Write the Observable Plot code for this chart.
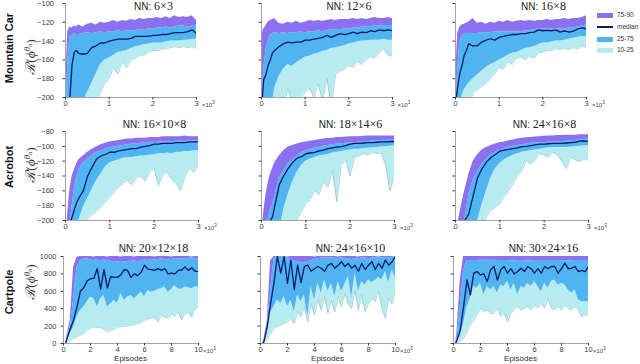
<!DOCTYPE html>
<html><head><meta charset="utf-8">
<script src="https://cdn.jsdelivr.net/npm/d3@7"></script>
<script src="https://cdn.jsdelivr.net/npm/@observablehq/plot@0.6"></script>
<style>
body{margin:0;background:#fff;}
#fig{position:relative;width:640px;height:364px;overflow:hidden;font-family:"Liberation Sans",Arial,sans-serif;color:#222;}
.abs{position:absolute;white-space:nowrap;line-height:1;}
.title{font-size:10px;transform:translate(-50%,-50%);}
.title .n{font-family:"Liberation Serif",serif;font-size:12px;}
.rowlab{font-weight:bold;font-size:11px;transform:translate(-50%,-50%) rotate(-90deg);color:#111;}
.ylab{font-family:"Liberation Serif","DejaVu Serif",serif;font-size:13.5px;transform:translate(-50%,-50%) rotate(-90deg);color:#333;}
.ylab sup{font-size:9px;}
.ylab sub{font-size:6.5px;}
.mult{font-size:6px;color:#444;transform:translateY(-50%);}
.mult sup{font-size:4.5px;}
.eps{font-size:8px;color:#333;transform:translate(-50%,-50%);}
.leg{font-size:6.5px;color:#333;transform:translateY(-50%);}
.sw{position:absolute;width:16px;}
</style></head>
<body><div id="fig"></div>
<script>
// ---------- data ----------
const X12 = [0.02,0.05,0.1,0.15,0.2,0.25, 0.3,0.4,0.5,0.6,0.7, 0.8,0.9,1.0,1.1,1.2, 1.3,1.4,1.5,1.6,1.7, 1.8,1.9,2.0,2.1,2.2, 2.3,2.4,2.5,2.6,2.7, 2.8,2.9,3.0];
const X3 = [0.15,0.25,0.5,0.75,1, 1.25,1.5,1.75,2,2.25, 2.5,2.75,3,3.25,3.5, 3.75,4,4.25,4.5,4.75, 5,5.25,5.5,5.75,6, 6.25,6.5,6.75,7,7.25, 7.5,7.75,8,8.25,8.5, 8.75,9,9.25,9.5,9.75, 10];

const envs = ["Mountain Car","Acrobot","Cartpole"];
const nets = [["6×3","12×6","16×8"],["16×10×8","18×14×6","24×16×8"],["20×12×18","24×16×10","30×24×16"]];
const yTicks = [[-200,-180,-160,-140,-120,-100],[-200,-180,-160,-140,-120,-100,-80],[0,200,400,600,800,1000]];
const xTicks = [[0,1,2,3],[0,1,2,3],[0,2,4,6,8,10]];
const legendLabels = ["75-90","median","25-75","10-25"];

// Mountain Car
const mc1_p90 = [-168,-130,-125,-126,-124,-125, -123,-125,-122,-121,-123, -120,-121,-120,-118,-120, -118,-119,-117,-118,-116, -117,-116,-116,-115,-116, -114,-116,-113,-115,-114, -115,-113,-118];
const mc1_p75 = [-205,-165,-136,-134,-132,-133, -133,-132,-131,-132,-131, -130,-131,-130,-130,-129, -130,-129,-129,-129,-128, -128,-127,-127,-126,-126, -125,-126,-125,-124,-124, -125,-124,-123];
const mc1_med = [-205,-205,-200,-165,-152,-150, -153,-154,-153,-147,-145, -142,-142,-140,-139,-138, -138,-138,-137,-135,-135, -135,-135,-134,-134,-133, -133,-132,-131,-131,-131, -130,-128,-132];
const mc1_p25 = [-240,-240,-235,-230,-225,-215, -210,-205,-195,-185,-175, -165,-160,-158,-155,-152, -151,-150,-148,-146,-145, -144,-143,-142,-142,-142, -141,-140,-140,-140,-139, -139,-138,-138];
const mc1_p10 = [-260,-260,-260,-260,-260,-260, -260,-250,-215,-210,-205, -195,-185,-180,-168,-175, -162,-168,-160,-158,-155, -155,-152,-150,-150,-149, -148,-147,-146,-147,-146, -147,-146,-148];

const mc2_p90 = [-132,-127,-124,-120,-118,-117, -116,-121,-122,-120,-121, -119,-121,-120,-118,-119, -118,-119,-118,-117,-118, -117,-117,-117,-116,-117, -116,-117,-116,-115,-116, -116,-115,-116];
const mc2_p75 = [-200,-170,-150,-140,-134,-132, -131,-132,-131,-132,-131, -131,-130,-131,-130,-130, -129,-130,-129,-128,-128, -128,-127,-127,-126,-126, -125,-125,-124.5,-124,-124, -124,-123.5,-123.5];
const mc2_med = [-200,-181,-176,-166,-160,-153, -150,-146,-143,-141,-142, -141,-141,-139,-139,-138, -137,-136,-134,-136,-134, -132,-133,-132,-130.5,-132, -130.5,-131,-129,-130,-128, -129,-128,-129];
const mc2_p25 = [-240,-230,-220,-215,-210,-205, -190,-178,-170,-165,-167, -163,-160,-157,-156,-154, -153,-151,-150,-148,-147, -146,-145,-143,-142,-141, -140,-140,-139,-139,-139, -138,-139,-139];
const mc2_p10 = [-260,-260,-260,-260,-260,-260, -260,-250,-215,-190,-205, -210,-200,-195,-190,-200, -185,-205,-180,-210,-175, -172,-170,-166,-168,-162, -165,-160,-157,-158,-152, -148,-155,-156];

const mc3_p90 = [-160,-132,-125,-123,-122,-121, -120,-116,-121,-120,-122, -120,-121,-119,-120,-118, -120,-119,-118,-119,-118, -119,-118,-118,-117,-118, -117,-117,-116,-117,-116, -116,-115,-113];
const mc3_p75 = [-200,-170,-140,-135,-132,-132, -132,-132,-132,-131,-131, -131,-130,-130,-130,-130, -130,-130,-130,-129,-129, -128,-127,-127,-127,-127, -127,-127,-127,-126,-126, -125,-124,-123];
const mc3_med = [-200,-188,-174,-166,-155,-150, -143,-145,-145,-141,-139, -137.5,-139,-136,-135,-134, -133,-133,-132,-132,-131, -130.5,-128,-129,-128.5,-129, -128,-130.5,-129,-130.5,-129.5, -127,-126,-127];
const mc3_p25 = [-240,-220,-205,-198,-192,-188, -185,-180,-176,-172,-168, -165,-163,-160,-158,-155, -153,-152,-150,-148,-147, -146,-144,-142,-142,-141, -140,-140,-139,-138,-137, -136,-135,-135];
const mc3_p10 = [-260,-250,-215,-205,-210,-200, -215,-195,-192,-188,-185, -180,-175,-168,-170,-162, -165,-158,-157,-160,-156, -158,-152,-152,-150,-150, -148,-149,-148,-149,-147, -148,-146,-146];

// Acrobot
const ac1_p90 = [-215,-190,-158,-140,-132,-124, -118,-113,-108,-104,-101, -98,-96,-94,-93,-92, -91,-90,-90,-89,-89, -89,-88,-88,-88,-87, -87,-87,-87,-87,-86, -87,-87,-87];
const ac1_p75 = [-240,-230,-205,-180,-158,-142, -132,-122,-117,-112,-108, -106,-104,-102,-101,-100, -99,-98,-97,-97,-96, -96,-95,-95,-94,-94, -94,-93.5,-93,-93,-93, -92.5,-92.5,-92.5];
const ac1_med = [-240,-230,-205,-195,-185,-176, -170,-160,-140,-128,-117, -113,-111,-108,-108,-106, -105,-104,-103,-103,-101, -100,-99,-97,-97,-96, -96,-96,-95,-95,-95, -94,-94,-94];
const ac1_p25 = [-260,-255,-250,-240,-225,-215, -200,-182,-170,-158,-146, -137,-128,-122,-120,-118, -116,-115,-115,-114,-113, -113,-112,-111,-110,-110, -109,-110,-108,-108,-107, -107,-106,-106];
const ac1_p10 = [-280,-280,-280,-280,-280,-280, -280,-210,-198,-192,-188, -182,-175,-169,-162,-155, -150,-146,-152,-142,-140, -147,-135,-130,-153,-138, -135,-145,-150,-160,-140, -130,-135,-124];

const ac2_p90 = [-205,-190,-165,-150,-137,-130, -122,-113,-106,-101,-99, -97,-95,-94,-93,-92, -91,-90,-89.5,-89,-88, -88,-87.5,-87,-87,-87, -86.5,-86,-86,-86,-86, -86,-86,-86];
const ac2_p75 = [-240,-230,-210,-198,-185,-178, -168,-142,-134,-124,-118, -113,-109,-106,-104,-102.5, -101.5,-100,-99,-98,-97, -96.5,-96,-95.5,-95,-94.5, -94,-93.5,-93,-92.5,-92, -92,-91.5,-91.5];
const ac2_med = [-240,-230,-215,-205,-200,-195, -180,-152,-140,-130,-122, -116,-114,-110,-109,-108, -106,-105,-103,-102,-101, -100.5,-99,-97,-96,-96, -95.5,-95,-95,-94.5,-94, -94,-93.5,-93.5];
const ac2_p25 = [-260,-260,-260,-260,-260,-260, -240,-215,-185,-165,-148, -135,-126,-120,-117,-115, -113,-112,-111,-109,-108, -107,-106,-105,-104,-104, -103,-102.5,-102,-101.5,-101, -100.5,-100,-99];
const ac2_p10 = [-280,-280,-280,-280,-280,-280, -280,-260,-240,-225,-210, -200,-188,-178,-172,-160, -165,-148,-155,-133,-175, -125,-119,-140,-115,-113, -110,-112,-108,-110,-109, -125,-160,-140];

const ac3_p90 = [-215,-205,-190,-175,-162,-150, -138,-120,-111,-105,-101.5, -99,-97,-95,-94,-92.5, -91.5,-90,-89,-88.5,-88, -87.5,-87,-86.5,-86,-86, -85.5,-85.5,-85,-85,-85, -84.5,-84.5,-84.5];
const ac3_p75 = [-260,-250,-235,-220,-200,-185, -165,-145,-134,-124,-117, -112,-108,-105,-103,-101.5, -100,-99,-98,-97,-96, -95.5,-95,-95,-94.5,-94, -94,-93.5,-93,-92.5,-92, -91.5,-91,-90];
const ac3_med = [-260,-260,-260,-260,-200,-196, -191,-166,-142,-130,-121, -115,-111,-106.5,-105,-104, -103,-102,-100.5,-100,-99, -98,-97,-97,-96.5,-96, -96,-96,-95.5,-95,-94.5, -93,-92.5,-93.5];
const ac3_p25 = [-260,-260,-260,-260,-260,-260, -250,-225,-200,-178,-160, -142,-130,-123,-118,-115, -112,-110,-108,-107,-106, -105,-104,-103,-102,-101.5, -101.5,-101.5,-101.5,-101,-100.5, -100,-99.5,-99];
const ac3_p10 = [-280,-280,-280,-280,-280,-280, -280,-270,-250,-210,-195, -187,-182,-178,-168,-160, -150,-140,-133,-119,-124, -118,-110,-112,-115,-108, -112,-120,-130,-115,-118, -121,-117,-119];

// Cartpole
const cp1_p90 = [0,80,270,880,990, 1000,1000,1000,1000,995, 1000,1000,1000,995,1000, 1000,1000,995,1000,1000, 1000,995,1000,1000,1000, 1000,1000,995,1000,1000, 1000,1000,995,1000,1000, 1000,1000,1000,995,1000, 1000];
const cp1_p75 = [0,60,190,500,880, 950,970,975,960,950, 965,950,960,955,945, 935,940,930,940,935, 945,950,940,950,960, 955,965,960,965,970, 965,960,965,970,975, 970,975,980,985,975, 975];
const cp1_med = [0,50,170,270,420, 600,640,720,745,750, 860,625,850,640,770, 760,760,790,850,840, 760,800,780,820,900, 855,850,840,860,840, 860,800,810,800,840, 845,880,840,870,830, 830];
const cp1_p25 = [0,30,115,190,305, 380,420,477,535,515, 420,515,553,420,458, 496,458,573,496,535, 553,515,553,592,535, 610,590,600,620,630, 650,590,620,668,630, 620,650,640,630,650, 650];
const cp1_p10 = [0,10,30,57,80, 95,110,153,170,190, 185,183,160,134,153, 160,190,190,198,198, 210,215,229,240,267, 280,286,305,248,324, 300,290,343,310,362, 267,340,360,300,400, 420];

const cp2_p90 = [0,40,260,950,1000, 1000,1000,1000,995,1000, 1000,1000,1000,1000,1000, 1000,995,1000,1000,1000, 1000,1000,1000,995,1000, 1000,1000,1000,1000,995, 1000,1000,1000,1000,1000, 995,1000,1000,1000,1000, 1000];
const cp2_p75 = [0,20,200,600,980, 1000,990,1000,985,970, 950,940,930,925,935, 950,965,975,980,985, 980,985,980,975,985, 980,975,965,970,975, 980,985,975,980,985, 980,985,990,985,990, 1000];
const cp2_med = [0,20,190,460,700, 1000,810,1000,690,960, 620,900,700,885,900, 830,860,885,865,830, 900,920,865,900,940, 885,920,865,900,830, 920,850,900,940,850, 920,865,960,900,940, 1000];
const cp2_p25 = [0,10,115,365,423, 500,460,538,423,500, 365,558,480,558,308, 654,500,692,577,730, 600,692,538,710,596, 680,770,520,808,600, 710,673,730,700,720, 760,730,827,700,846, 750];
const cp2_p10 = [0,5,38,115,173, 192,211,230,250,288, 230,365,308,423,250, 460,327,500,385,538, 346,500,360,540,423, 577,450,400,615,385, 560,365,450,520,480, 600,400,288,520,450, 615];

const cp3_p90 = [0,115,730,1000,1000, 1000,1000,1000,1000,1000, 1000,1000,1000,1000,1000, 1000,1000,1000,1000,1000, 1000,1000,1000,1000,1000, 1000,1000,1000,1000,1000, 1000,1000,1000,1000,1000, 1000,1000,1000,1000,1000, 1000];
const cp3_p75 = [0,40,420,840,955, 955,955,955,958,958, 958,958,958,955,955, 955,955,950,950,945, 945,945,950,950,955, 955,955,955,955,955, 955,955,955,950,950, 950,955,955,955,955, 955];
const cp3_med = [0,38,154,423,730, 558,808,827,788,800, 712,846,885,730,846, 885,808,860,800,827, 865,827,885,860,808, 860,808,885,860,885, 885,808,860,923,860, 865,885,827,840,827, 885];
const cp3_p25 = [0,20,77,230,423, 519,654,635,692,558, 654,615,654,577,673, 654,712,615,692,558, 654,635,692,654,712, 654,596,692,635,712, 730,673,692,673,615, 577,615,500,480,480, 480];
const cp3_p10 = [0,5,20,57,134, 211,269,327,404,365, 385,345,345,404,308, 345,250,345,385,423, 385,404,423,385,442, 404,462,404,519,404, 385,423,385,442,404, 385,423,385,308,327, 327];

// ---------- styling / layout ----------
const C90 = "#8b70f0", C75 = "#4fb4ef", C25 = "#b6ecef", CMED = "#0d1a6b", CEDGE = "#8ec5ca";
const series = [
  [[mc1_p10,mc1_p25,mc1_med,mc1_p75,mc1_p90],[mc2_p10,mc2_p25,mc2_med,mc2_p75,mc2_p90],[mc3_p10,mc3_p25,mc3_med,mc3_p75,mc3_p90]],
  [[ac1_p10,ac1_p25,ac1_med,ac1_p75,ac1_p90],[ac2_p10,ac2_p25,ac2_med,ac2_p75,ac2_p90],[ac3_p10,ac3_p25,ac3_med,ac3_p75,ac3_p90]],
  [[cp1_p10,cp1_p25,cp1_med,cp1_p75,cp1_p90],[cp2_p10,cp2_p25,cp2_med,cp2_p75,cp2_p90],[cp3_p10,cp3_p25,cp3_med,cp3_p75,cp3_p90]]
];
const layout = [
  {X:X12, top:3, h:94, w:131, lefts:[65,260.5,455], xmax:3, fs:7.5, ypad:9, xpad:1, multDx:6, titleY:6, ylabY:57, rowY:48},
  {X:X12, top:131, h:89, w:133, lefts:[65,261,455], xmax:3, fs:7.5, ypad:9, xpad:1, multDx:6, titleY:124, ylabY:165, rowY:167},
  {X:X3, top:256, h:87, w:135, lefts:[63,260,453], xmax:10, fs:7.5, ypad:4.5, xpad:0.5, multDx:5, titleY:248, ylabY:282, rowY:292}
];

const fig = document.getElementById("fig");
function addDiv(cls, html, left, top){
  const d = document.createElement("div");
  d.className = "abs " + cls; d.innerHTML = html;
  d.style.left = left + "px"; d.style.top = top + "px";
  fig.appendChild(d); return d;
}

const mL = 45, mR = 6, mT = 3, mB = 16;
layout.forEach((L, r) => {
  const ydom = [yTicks[r][0], yTicks[r][yTicks[r].length-1]];
  for (let c = 0; c < 3; c++) {
    const [p10,p25,med,p75,p90] = series[r][c];
    const data = L.X.map((x,i)=>({x, p10:p10[i], p25:p25[i], med:med[i], p75:p75[i], p90:p90[i]}));
    const svg = Plot.plot({
      width: L.w + mL + mR, height: L.h + mT + mB,
      marginLeft: mL, marginRight: mR, marginTop: mT, marginBottom: mB,
      x: {domain: [0, L.xmax]},
      y: {domain: ydom},
      style: {fontFamily: '"Liberation Sans",Arial,sans-serif', fontSize: L.fs + "px", color: "#3a3a3a", background: "transparent", overflow: "visible"},
      marks: [
        Plot.areaY(data, {x: "x", y1: "p10", y2: "p25", fill: C25, clip: true}),
        Plot.areaY(data, {x: "x", y1: "p25", y2: "p75", fill: C75, clip: true}),
        Plot.areaY(data, {x: "x", y1: "p75", y2: "p90", fill: C90, clip: true}),
        Plot.lineY(data, {x: "x", y: "p10", stroke: CEDGE, strokeWidth: 0.7, clip: true}),
        Plot.lineY(data, {x: "x", y: "med", stroke: CMED, strokeWidth: 1.3, clip: true}),
        Plot.ruleX([0], {stroke: "#8a8a8a", strokeWidth: 0.8}),
        Plot.ruleY([ydom[0]], {stroke: "#8a8a8a", strokeWidth: 0.8}),
        Plot.axisY({ticks: yTicks[r], tickSize: 2.5, tickPadding: L.ypad, label: null,
          tickFormat: c === 0 ? (d => d < 0 ? "\u2212" + (-d) : String(d)) : (() => "")}),
        Plot.axisX({ticks: xTicks[r], tickSize: 2.5, tickPadding: L.xpad, label: null, tickFormat: d => String(d)})
      ]
    });
    svg.style.position = "absolute";
    svg.style.left = (L.lefts[c] - mL) + "px";
    svg.style.top = (L.top - mT) + "px";
    fig.appendChild(svg);

    const cx = L.lefts[c] + L.w / 2;
    addDiv("title", 'NN: <span class="n">' + nets[r][c] + '</span>', cx + 23, L.titleY);
    addDiv("mult", "×10<sup>3</sup>", L.lefts[c] + L.w + L.multDx, L.top + L.h + 6.5);
    if (r === 2) addDiv("eps", "Episodes", cx, 358.5);
  }
  addDiv("rowlab", envs[r], 9, L.rowY);
  addDiv("ylab", '<i>ℛ</i>(<i>ϕ</i><sup><i>θ</i><sub><i>n</i></sub></sup>)', 30, L.ylabY);
});

// legend
const legY = [15, 27, 39, 50];
const legCol = [C90, CMED, C75, C25];
legendLabels.forEach((lab, i) => {
  const s = document.createElement("div");
  s.className = "sw";
  s.style.left = "597px";
  s.style.background = legCol[i];
  s.style.height = (i === 1 ? 1.5 : 5) + "px";
  s.style.top = (legY[i] - (i === 1 ? 0.75 : 2.5)) + "px";
  fig.appendChild(s);
  addDiv("leg", lab, 617, legY[i]);
});
</script>
</body></html>
